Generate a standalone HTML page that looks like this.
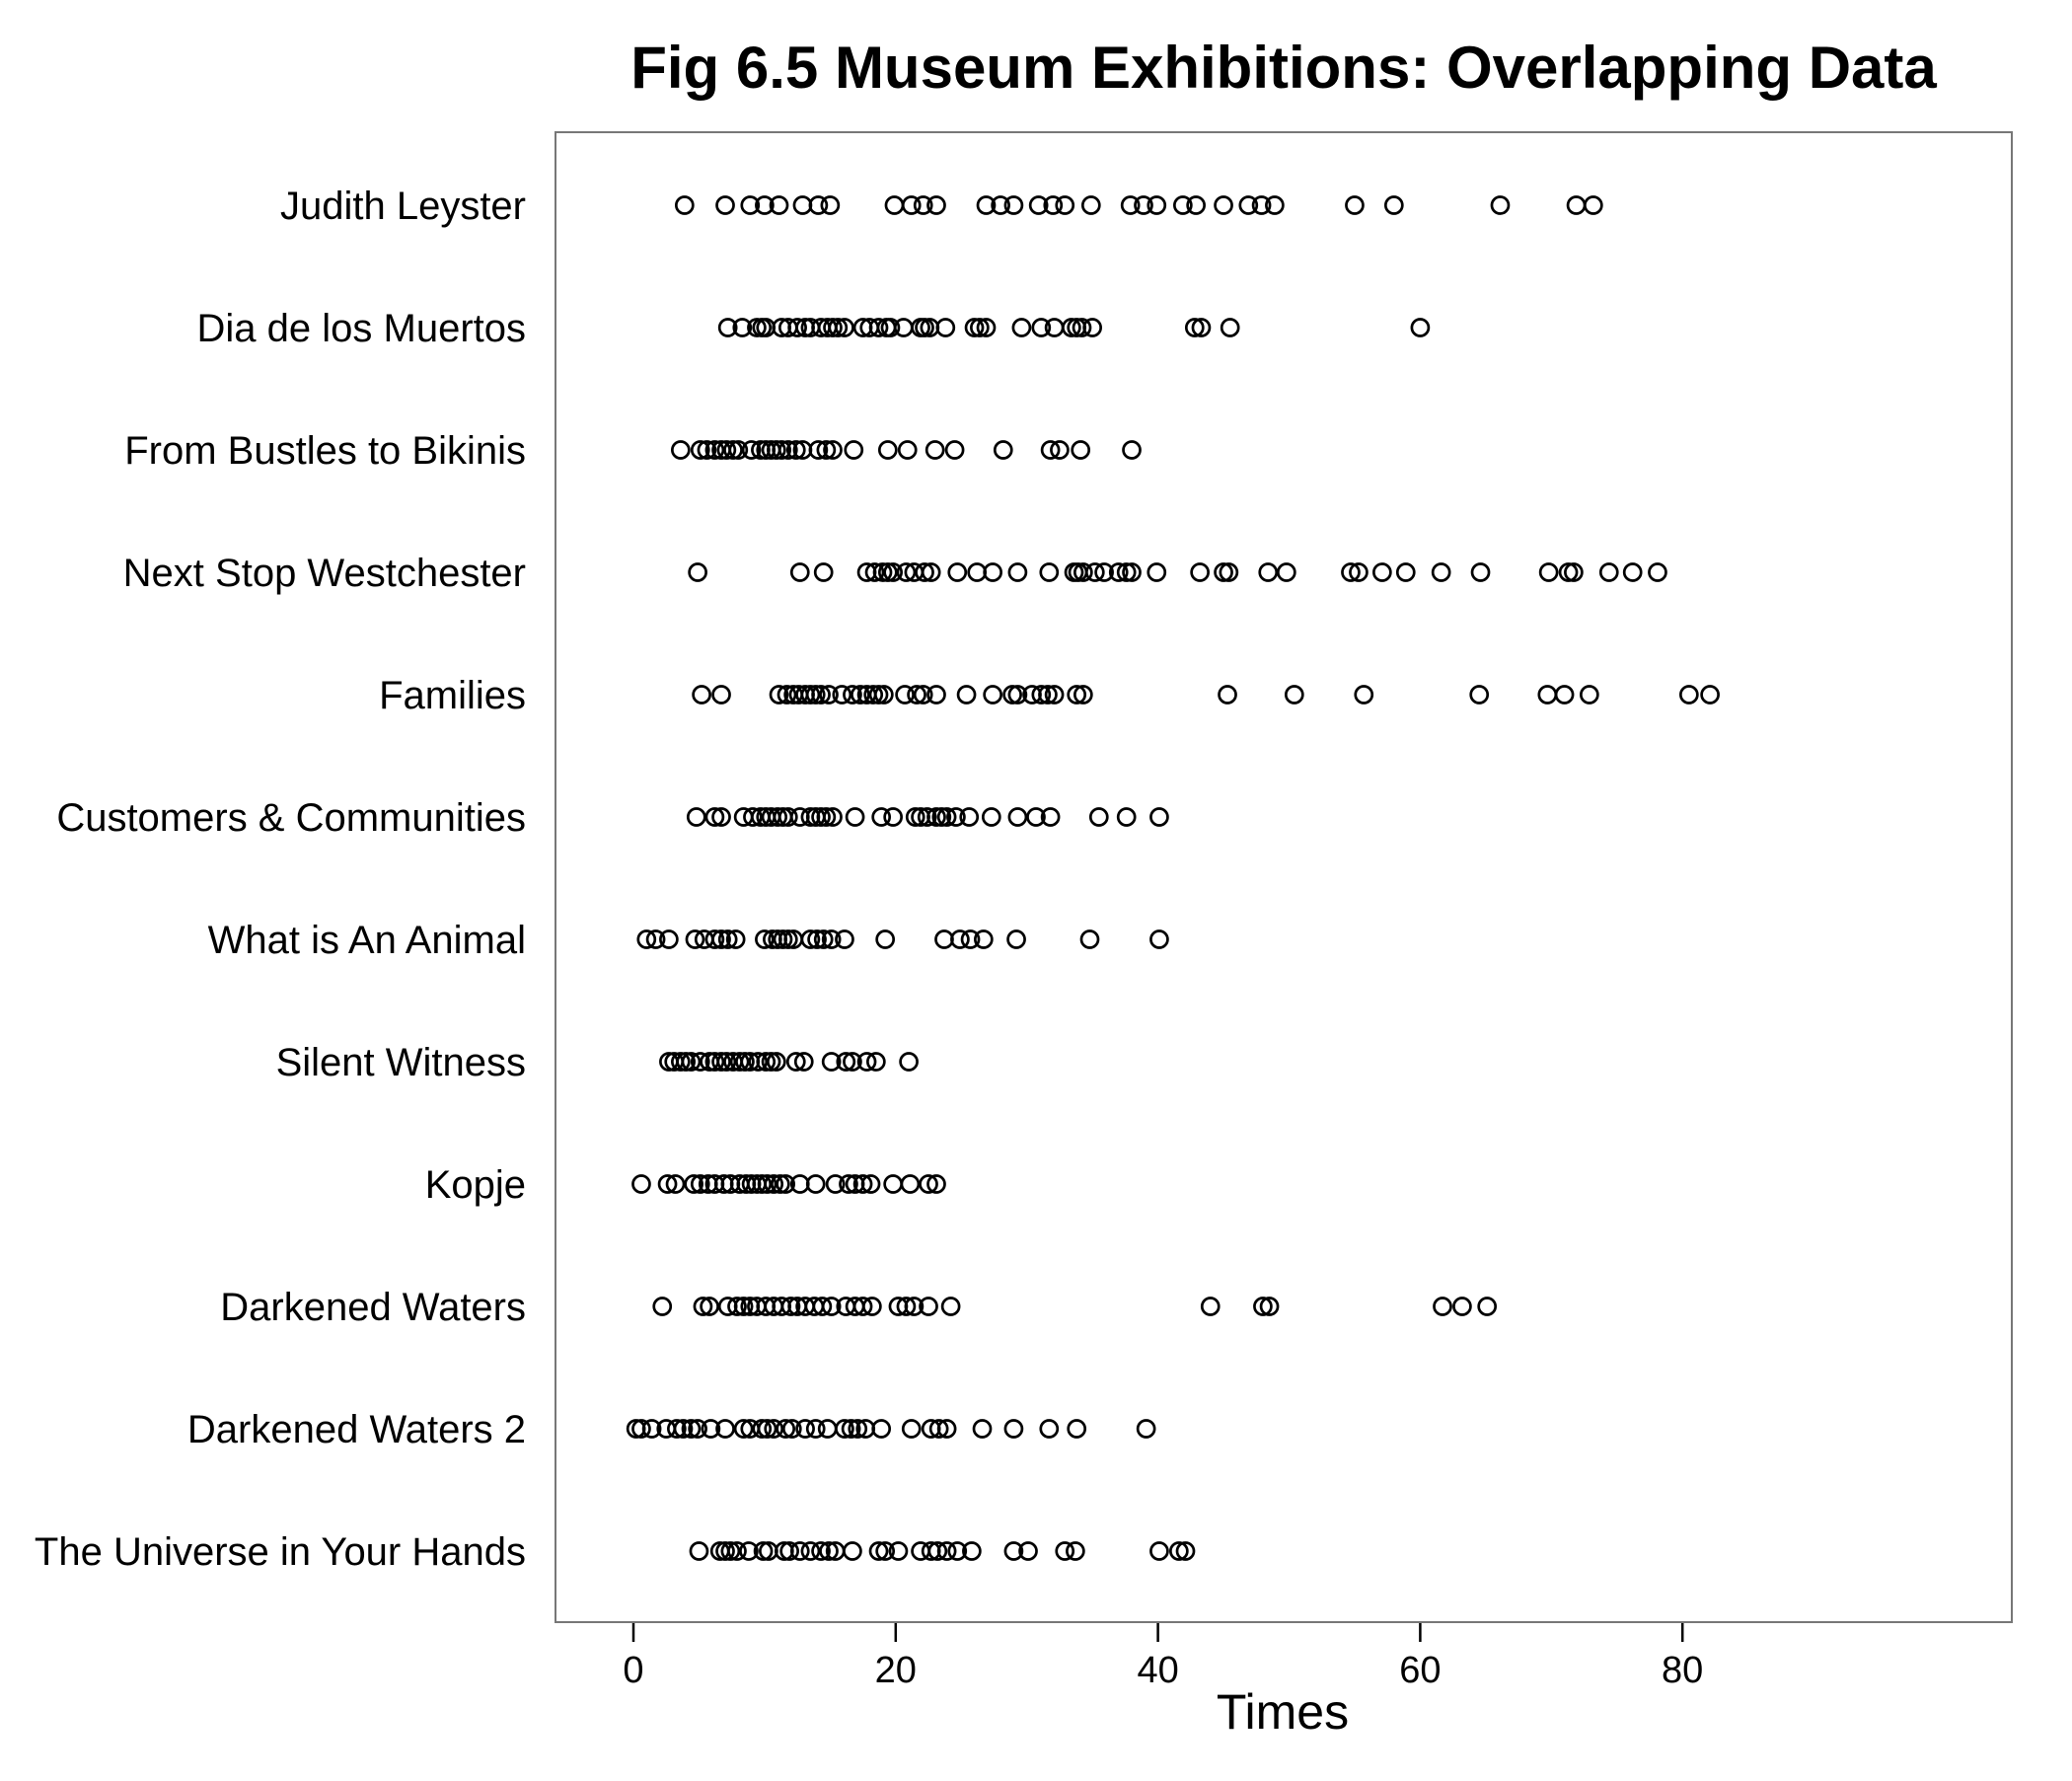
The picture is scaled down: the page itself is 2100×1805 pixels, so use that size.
<!DOCTYPE html>
<html><head><meta charset="utf-8"><style>html,body{margin:0;padding:0;background:#fff}</style></head>
<body>
<svg id="chart" xmlns="http://www.w3.org/2000/svg" width="2100" height="1800" viewBox="0 0 2100 1800" font-family="'Liberation Sans', Arial, sans-serif">
<rect width="2100" height="1800" fill="#fff"/>
<text x="1301" y="89" text-anchor="middle" font-size="60" font-weight="bold">Fig 6.5 Museum Exhibitions: Overlapping Data</text>
<rect x="563" y="134" width="1476" height="1510" fill="none" stroke="#777" stroke-width="2"/>
<g id="ylabels"></g><g id="xticks"></g><g id="points"></g>
<text x="1300" y="1752" text-anchor="middle" font-size="50">Times</text>
</svg>
<script>
const categories = ["Judith Leyster","Dia de los Muertos","From Bustles to Bikinis","Next Stop Westchester","Families","Customers & Communities","What is An Animal","Silent Witness","Kopje","Darkened Waters","Darkened Waters 2","The Universe in Your Hands"];
const judith = [3.9,7.0,8.9,10.0,11.1,12.9,14.1,15.0,19.9,21.2,22.1,23.1,26.9,28.0,29.0,30.9,32.0,32.9,34.9,37.9,38.9,39.9,41.9,42.9,45.0,46.9,47.9,48.9,55.0,58.0,66.1,71.9,73.2];
const dia = [7.2,8.3,9.4,9.8,10.1,11.3,11.8,12.5,13.1,13.5,14.3,14.8,15.2,15.6,16.1,17.5,18.0,18.7,19.3,19.6,20.6,21.9,22.2,22.6,23.8,26.0,26.4,26.9,29.6,31.1,32.1,33.4,33.8,34.2,35.0,42.8,43.3,45.5,60.0];
const bustles = [3.6,5.1,5.6,6.2,6.7,7.1,7.6,8.0,9.0,9.7,10.1,10.5,10.9,11.3,11.8,12.4,12.9,14.1,14.7,15.2,16.8,19.4,20.9,23.0,24.5,28.2,31.8,32.5,34.1,38.0];
const westchester = [4.9,12.7,14.5,17.8,18.4,19.0,19.4,19.8,20.8,21.4,22.2,22.7,24.7,26.2,27.4,29.3,31.7,33.6,33.9,34.3,35.2,35.9,37.0,37.6,38.0,39.9,43.2,45.0,45.4,48.4,49.8,54.7,55.3,57.1,58.9,61.6,64.6,69.8,71.3,71.7,74.4,76.2,78.1];
const families = [5.2,6.7,11.1,11.7,12.2,12.6,13.1,13.5,13.9,14.3,14.9,15.9,16.7,17.3,17.8,18.3,18.7,19.1,20.7,21.6,22.1,23.1,25.4,27.4,28.9,29.3,30.4,31.1,31.6,32.1,33.8,34.3,45.3,50.4,55.7,64.5,69.7,71.0,72.9,80.5,82.1];
const customers = [4.8,6.2,6.7,8.4,9.1,9.7,10.1,10.5,11.0,11.4,11.8,12.7,13.5,13.9,14.3,14.7,15.2,16.9,18.9,19.8,21.5,21.9,22.4,23.1,23.5,23.9,24.6,25.6,27.3,29.3,30.7,31.8,35.5,37.6,40.1];
const animal = [1.0,1.7,2.7,4.7,5.4,6.2,6.7,7.2,7.8,10.0,10.6,11.0,11.4,11.8,12.2,13.5,14.0,14.5,15.1,16.1,19.2,23.7,24.9,25.7,26.7,29.2,34.8,40.1];
const silent = [2.7,3.1,3.6,4.0,4.4,5.1,5.8,6.2,6.7,7.1,7.6,8.1,8.5,8.9,9.5,10.1,10.5,10.9,12.4,13.0,15.1,16.2,16.7,17.8,18.5,21.0];
const kopje = [0.6,2.6,3.2,4.6,5.1,5.7,6.2,6.9,7.4,8.1,8.6,9.0,9.4,9.8,10.2,10.7,11.2,11.6,12.7,13.9,15.4,16.4,16.9,17.5,18.1,19.8,21.1,22.5,23.1];
const darkened = [2.2,5.3,5.8,7.2,7.9,8.4,8.9,9.4,10.1,10.7,11.3,12.0,12.5,13.1,13.8,14.4,15.1,16.2,16.9,17.5,18.2,20.2,20.8,21.4,22.5,24.2,44.0,48.0,48.5,61.7,63.2,65.1];
const darkened2 = [0.2,0.6,1.4,2.5,3.3,3.8,4.4,4.9,5.9,7.0,8.4,8.9,9.8,10.2,10.7,11.6,12.1,13.1,13.9,14.8,16.1,16.6,17.1,17.7,18.9,21.2,22.7,23.3,23.9,26.6,29.0,31.7,33.8,39.1];
const universe = [5.0,6.6,7.0,7.4,7.9,8.8,9.9,10.3,11.5,11.9,12.7,13.5,14.3,14.9,15.4,16.7,18.7,19.2,20.2,21.9,22.7,23.2,23.9,24.7,25.8,29.0,30.1,32.9,33.7,40.1,41.6,42.1];
const seriesValues = [judith,dia,bustles,westchester,families,customers,animal,silent,kopje,darkened,darkened2,universe];
const xTicks = [0,20,40,60,80];

const NS = "http://www.w3.org/2000/svg";
const X0 = 642, XU = 13.29;
function xScale(v){ return X0 + v*XU; }
function yScale(i){ return 208 + i*124; }
function mk(tag, attrs, parent){ const e=document.createElementNS(NS,tag); for(const k in attrs) e.setAttribute(k,attrs[k]); parent.appendChild(e); return e; }

const yl = document.getElementById('ylabels');
categories.forEach((c,i)=>{
  const t = mk('text',{x:533,y:yScale(i)+14,'text-anchor':'end','font-size':40},yl);
  
  
  t.textContent = c;
});
const xt = document.getElementById('xticks');
xTicks.forEach(v=>{
  const l = mk('line',{x1:xScale(v),x2:xScale(v),y1:1645,y2:1664,stroke:'#000','stroke-width':2.5},xt);
  
  
  const t = mk('text',{x:xScale(v),y:1705,'text-anchor':'middle','font-size':38},xt);
  
  
  t.textContent = v;
});
const pg = document.getElementById('points');
seriesValues.forEach((arr,i)=>{
  arr.forEach(v=>{
    const c = mk('circle',{cx:xScale(v),cy:yScale(i),r:8.5,fill:'none',stroke:'#000','stroke-width':2.7},pg);
    
    
  });
});
</script>
</body></html>
